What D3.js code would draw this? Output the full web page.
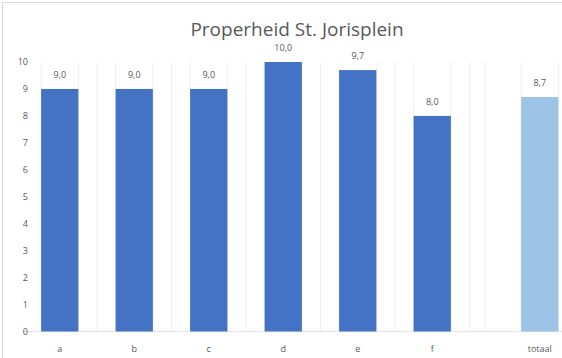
<!DOCTYPE html>
<html><head><meta charset="utf-8">
<script src="https://cdn.jsdelivr.net/npm/d3@7"></script>
<style>body{margin:0;background:#fff;font-family:"Open Sans",sans-serif;}</style>
</head><body><svg id="c" width="562" height="358"></svg>
<script>
const title = "Properheid St. Jorisplein";
const categories = ["a","b","c","d","e","f"];
const values = [9.0, 9.0, 9.0, 10.0, 9.7, 8.0];
const totalCategory = ["totaal"];
const totalValues = [8.7];
const yTicks = [0,1,2,3,4,5,6,7,8,9,10];

const svg = d3.select("#c");
const grey = "#595959";
svg.append("rect").attr("x",2.5).attr("y",2.5).attr("width",600).attr("height",400)
  .attr("fill","#fff").attr("stroke","#d9d9d9");

const y = d3.scaleLinear().domain([0,10]).range([331.5,62]);
const x = d3.scaleBand().domain(categories).range([22.5,469.5]).paddingInner(0.5).paddingOuter(0.25);
const xt = d3.scaleBand().domain(totalCategory).range([502.5,577]).paddingInner(0.5).paddingOuter(0.25);

const fmt = v => d3.format(".1f")(v).replace(".", ",");

// faint vertical lines: band boundaries and bar edges
const vlines = [];
categories.forEach(c => {
  const s = x(c) - x.step()*0.25;
  vlines.push(s, x(c), x(c)+x.bandwidth());
});
vlines.push(x.range()[1], 485, xt(totalCategory[0]), xt(totalCategory[0])+xt.bandwidth());
svg.append("g").selectAll("line").data(vlines.filter(v=>v>30)).join("line")
  .attr("x1",d=>d).attr("x2",d=>d).attr("y1",y(10)).attr("y2",y(0))
  .attr("stroke","#efefef").attr("stroke-width",1);

// baseline
svg.append("line").attr("x1",22.5).attr("x2",600).attr("y1",y(0)).attr("y2",y(0))
  .attr("stroke","#e3e3e3");

// y axis
const yAxis = d3.axisLeft(y).tickValues(yTicks).tickSize(0).tickPadding(0);
const gy = svg.append("g").attr("transform","translate(28,0)").call(yAxis);
gy.select(".domain").remove();
gy.selectAll("text").attr("fill",grey).style("font-size","9px").style("font-family","Open Sans");

// x axis
const gx = svg.append("g").attr("transform",`translate(0,${y(0)})`).call(d3.axisBottom(x).tickSize(0).tickPadding(14));
gx.select(".domain").remove();
gx.selectAll("text").attr("fill",grey).style("font-size","9px").style("font-family","Open Sans");
const gx2 = svg.append("g").attr("transform",`translate(0,${y(0)})`).call(d3.axisBottom(xt).tickSize(0).tickPadding(14));
gx2.select(".domain").remove();
gx2.selectAll("text").attr("fill",grey).style("font-size","9px").style("font-family","Open Sans");

// bars
svg.append("g").selectAll("rect").data(values).join("rect")
  .attr("x",(d,i)=>x(categories[i])).attr("width",x.bandwidth())
  .attr("y",d=>y(d)).attr("height",d=>y(0)-y(d)).attr("fill","#4472C4");
svg.append("g").selectAll("rect").data(totalValues).join("rect")
  .attr("x",(d,i)=>xt(totalCategory[i])).attr("width",xt.bandwidth())
  .attr("y",d=>y(d)).attr("height",d=>y(0)-y(d)).attr("fill","#9DC3E6");

// data labels
svg.append("g").selectAll("text").data(values).join("text")
  .attr("x",(d,i)=>x(categories[i])+x.bandwidth()/2).attr("y",d=>y(d)-11)
  .attr("text-anchor","middle").attr("fill",grey).style("font-size","9px").text(fmt);
svg.append("g").selectAll("text").data(totalValues).join("text")
  .attr("x",(d,i)=>xt(totalCategory[i])+xt.bandwidth()/2).attr("y",d=>y(d)-11)
  .attr("text-anchor","middle").attr("fill",grey).style("font-size","9px").text(fmt);

// title
svg.append("text").attr("x",297).attr("y",36).attr("text-anchor","middle")
  .attr("fill",grey).style("font-size","19px").text(title);
</script></body></html>
